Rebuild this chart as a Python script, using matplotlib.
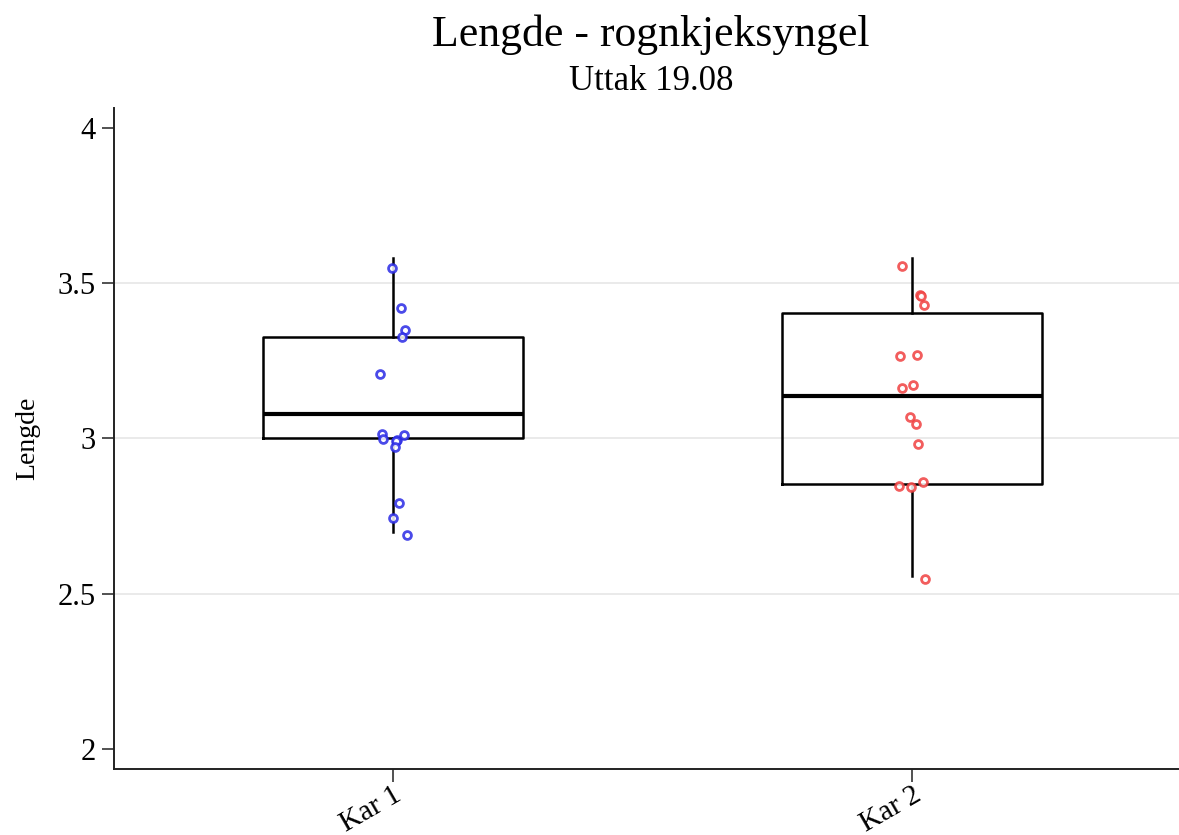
import matplotlib

matplotlib.use("Agg")
import matplotlib.pyplot as plt
import numpy as np

# data
groups = ["Kar 1", "Kar 2"]
box_whislo = [2.698, 2.556]
box_q1 = [3.000, 2.852]
box_med = [3.077, 3.135]
box_q3 = [3.325, 3.402]
box_whishi = [3.579, 3.579]

kar1_y = [3.548, 3.420, 3.350, 3.326, 3.206, 3.015, 2.999, 2.996, 2.991, 3.012, 2.972, 2.792, 2.744, 2.689]
kar1_dx = [-0.003, 0.015, 0.023, 0.018, -0.025, -0.022, -0.019, 0.008, 0.006, 0.021, 0.003, 0.012, -0.001, 0.026]
kar2_y = [3.554, 3.460, 3.457, 3.428, 3.265, 3.269, 3.162, 3.172, 3.069, 3.045, 2.983, 2.847, 2.842, 2.861, 2.549]
kar2_dx = [-0.019, 0.015, 0.017, 0.022, -0.023, 0.009, -0.019, 0.002, -0.004, 0.007, 0.011, -0.026, -0.002, 0.020, 0.025]

yticks = [2, 2.5, 3, 3.5, 4]
ytick_labels = ["2", "2.5", "3", "3.5", "4"]
grid_vals = [2.5, 3, 3.5]

plt.rcParams["font.family"] = ["Liberation Serif", "DejaVu Serif"]

fig = plt.figure(figsize=(11.79, 8.35), dpi=100)
ax = fig.add_axes([114 / 1179, 1 - 769 / 835, 1 - 114 / 1179, (769 - 108) / 835])

for g in grid_vals:
    ax.axhline(g, color="#e6e6e6", linewidth=1.2, zorder=0)

stats = []
for i, name in enumerate(groups):
    stats.append({
        "label": name,
        "whislo": box_whislo[i],
        "q1": box_q1[i],
        "med": box_med[i],
        "q3": box_q3[i],
        "whishi": box_whishi[i],
        "fliers": [],
    })

ax.bxp(
    stats,
    positions=[0, 1],
    widths=0.5,
    showcaps=False,
    showfliers=False,
    boxprops=dict(color="black", linewidth=1.8),
    whiskerprops=dict(color="black", linewidth=1.8),
    medianprops=dict(color="black", linewidth=3),
    zorder=2,
)

ax.scatter(0 + np.array(kar1_dx), kar1_y, s=32, facecolors="white", edgecolors="#2a2ae6",
           linewidths=2, alpha=0.85, zorder=3)
ax.scatter(1 + np.array(kar2_dx), kar2_y, s=32, facecolors="white", edgecolors="#f04040",
           linewidths=2, alpha=0.85, zorder=3)

ax.set_xlim(-0.5376, 1.514)
ax.set_ylim(1.936, 4.063)
ax.set_yticks(yticks)
ax.set_yticklabels(ytick_labels)
ax.set_xticks([0, 1])
ax.set_xticklabels(groups, rotation=30, ha="right", rotation_mode="anchor")

for side in ["top", "right"]:
    ax.spines[side].set_visible(False)
for side in ["left", "bottom"]:
    ax.spines[side].set_linewidth(1.4)
    ax.spines[side].set_color("#222222")

ax.tick_params(axis="both", direction="out", length=9, width=1.1, color="#222222", labelsize=22, pad=4)
ax.tick_params(axis="x", labelsize=21, pad=0)
ax.set_ylabel("Lengde", fontsize=20)
ax.yaxis.set_label_coords(-0.069, 0.5)

fig.text(0.552, 0.958, "Lengde - rognkjeksyngel", ha="center", va="center", fontsize=31.5)
fig.text(0.552, 0.902, "Uttak 19.08", ha="center", va="center", fontsize=25)

fig.savefig("out.png", dpi=100)
